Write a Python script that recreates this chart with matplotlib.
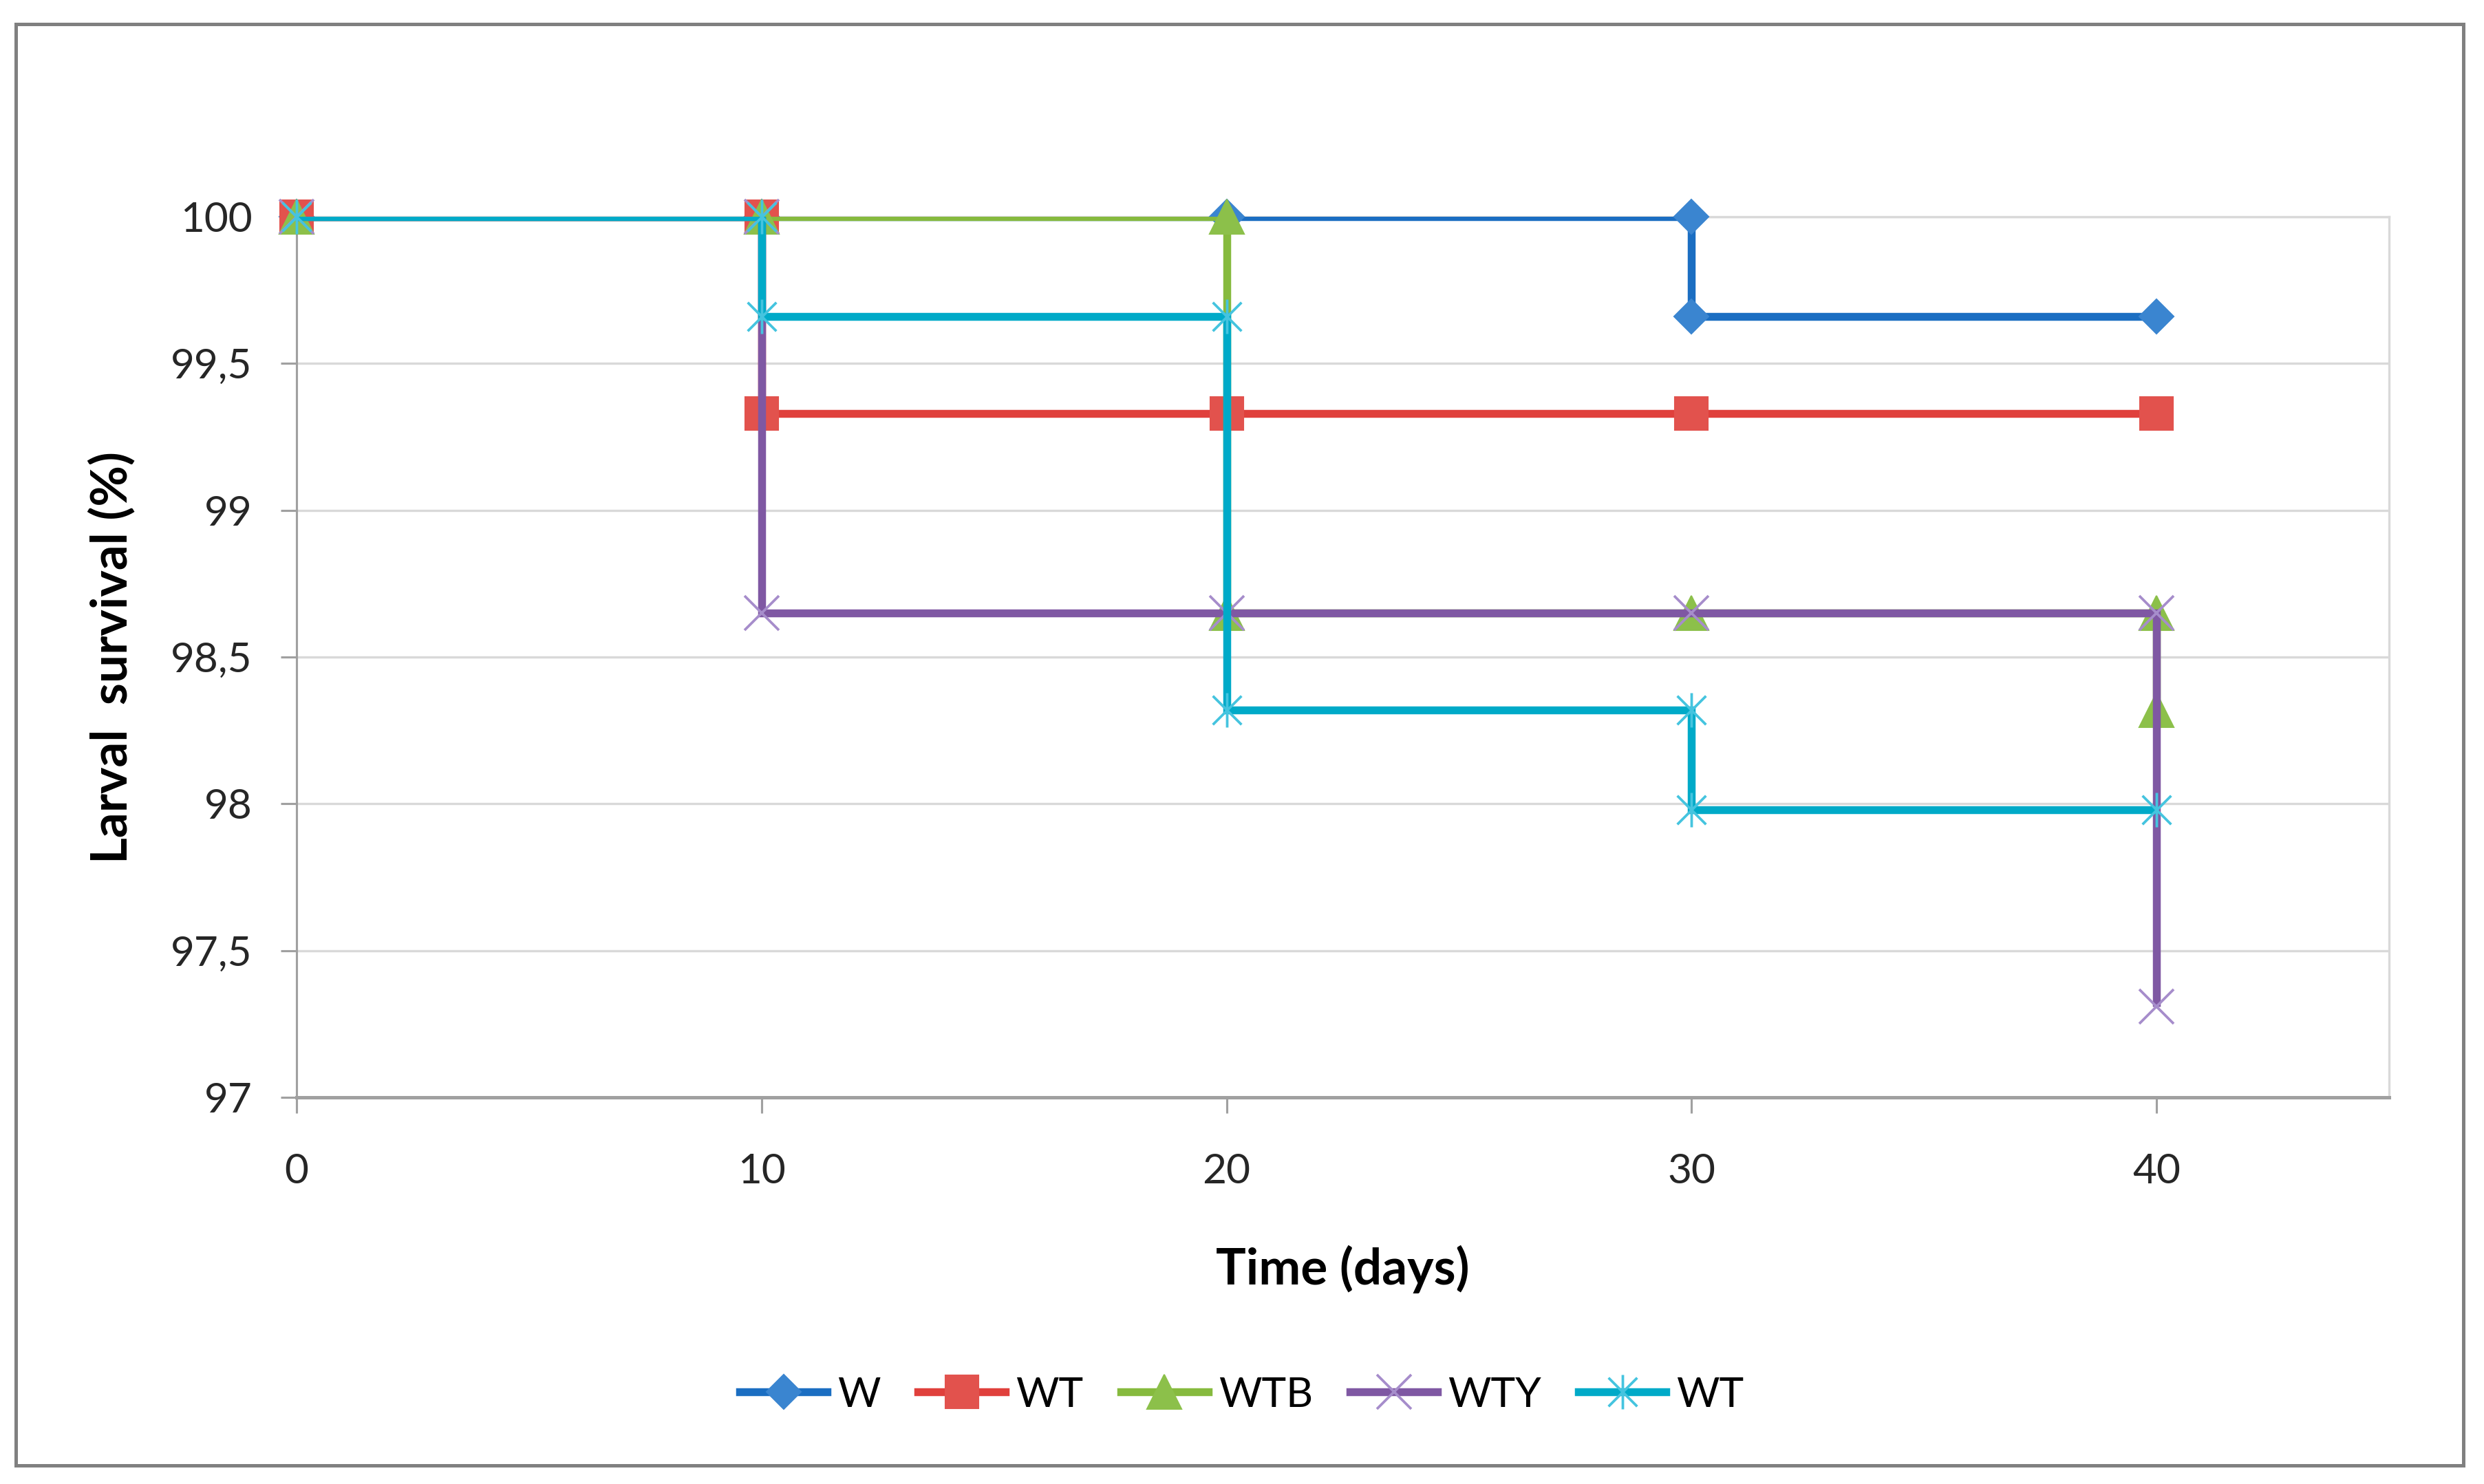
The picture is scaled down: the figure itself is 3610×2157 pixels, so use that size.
import matplotlib
matplotlib.use("Agg")
import matplotlib.pyplot as plt
from matplotlib.lines import Line2D
from matplotlib.patches import Rectangle
from matplotlib.path import Path

plt.rcParams['font.family'] = ['Lato', 'DejaVu Sans']

# data
days = [0, 10, 20, 30, 40]
w_x = [0, 10, 20, 30, 30, 40]
w_y = [100, 100, 100, 100, 99.66, 99.66]
wt_x = [0, 10, 10, 20, 30, 40]
wt_y = [100, 100, 99.33, 99.33, 99.33, 99.33]
wtb_x = [0, 10, 20, 20, 30, 40, 40]
wtb_y = [100, 100, 100, 98.65, 98.65, 98.65, 98.32]
wty_x = [0, 10, 10, 20, 30, 40, 40]
wty_y = [100, 100, 98.65, 98.65, 98.65, 98.65, 97.31]
wt2_x = [0, 10, 10, 20, 20, 30, 30, 40]
wt2_y = [100, 100, 99.66, 99.66, 98.32, 98.32, 97.98, 97.98]

y_ticks = [97, 97.5, 98, 98.5, 99, 99.5, 100]
y_labels = ['97', '97,5', '98', '98,5', '99', '99,5', '100']

# excel style asterisk: x plus vertical bar
star = Path([(-0.5, -0.5), (0.5, 0.5), (-0.5, 0.5), (0.5, -0.5), (0, -0.6), (0, 0.6)],
            [Path.MOVETO, Path.LINETO, Path.MOVETO, Path.LINETO, Path.MOVETO, Path.LINETO])

series = [
    # label, x, y, line colour, marker colour, marker, size, filled
    ('W', w_x, w_y, '#1B6EC2', '#3A85D0', 'D', 8.5, True),
    ('WT', wt_x, wt_y, '#E0403C', '#E2524D', 's', 11.5, True),
    ('WTB', wtb_x, wtb_y, '#86BA3E', '#8CC04A', '^', 12, True),
    ('WTY', wty_x, wty_y, '#7F58A3', '#A68DCB', 'x', 12, False),
    ('WT', wt2_x, wt2_y, '#00AAC8', '#45C4DF', star, 12, False),
]

fig = plt.figure(figsize=(3610 / 300, 2157 / 300), dpi=300)
ax = fig.add_axes([0.1194, 0.2605, 0.8424, 0.5935])

handles = []
for i, (lab, xs, ys, lc, mc, mk, ms, filled) in enumerate(series):
    z = 3 + i
    ax.plot(xs, ys, color=lc, lw=2.75, solid_joinstyle='miter', solid_capstyle='butt', zorder=z)
    if filled:
        kw = dict(markerfacecolor=mc, markeredgecolor=mc, markeredgewidth=0.5)
    else:
        kw = dict(markerfacecolor='none', markeredgecolor=mc, markeredgewidth=0.9)
    ax.plot(xs, ys, ls='none', marker=mk, markersize=ms, clip_on=False, zorder=z + 0.5, **kw)
    handles.append(Line2D([], [], color=lc, lw=2.75, marker=mk, markersize=ms, label=lab, **kw))

ax.set_xlim(0, 45)
ax.set_ylim(97, 100)
ax.set_xticks(days)
ax.set_yticks(y_ticks)
ax.set_yticklabels(y_labels)

ax.grid(True, axis='y', color='#D9D9D9', lw=0.8, zorder=0)
ax.set_axisbelow(True)
for side in ['top', 'right']:
    ax.spines[side].set_color('#D9D9D9')
    ax.spines[side].set_linewidth(0.8)
ax.spines['left'].set_color('#A0A0A0')
ax.spines['left'].set_linewidth(0.75)
ax.spines['bottom'].set_color('#A0A0A0')
ax.spines['bottom'].set_linewidth(1.2)
ax.tick_params(axis='both', direction='out', length=5.5, width=0.75, color='#A0A0A0',
               labelsize=14.5, labelcolor='#262626')
ax.tick_params(axis='x', pad=14)
ax.tick_params(axis='y', pad=10)

ax.set_xlabel('Time (days)', fontsize=17.5, fontweight='bold', labelpad=19)
ax.set_ylabel('Larval  survival (%)', fontsize=17.5, fontweight='bold', labelpad=12)

fig.legend(handles=handles, loc='center', bbox_to_anchor=(0.5, 0.06), ncol=5, frameon=False,
           fontsize=14.5, handlelength=2.1, handletextpad=0.25, columnspacing=0.9, numpoints=1)

# outer chart border
fig.patches.append(Rectangle((23 / 3610, 1 - 2130 / 2157), (3580 - 23) / 3610, (2130 - 35) / 2157,
                             transform=fig.transFigure, fill=False, ec='#808080', lw=1.2))

fig.savefig('out.png', dpi=300, facecolor='white')
